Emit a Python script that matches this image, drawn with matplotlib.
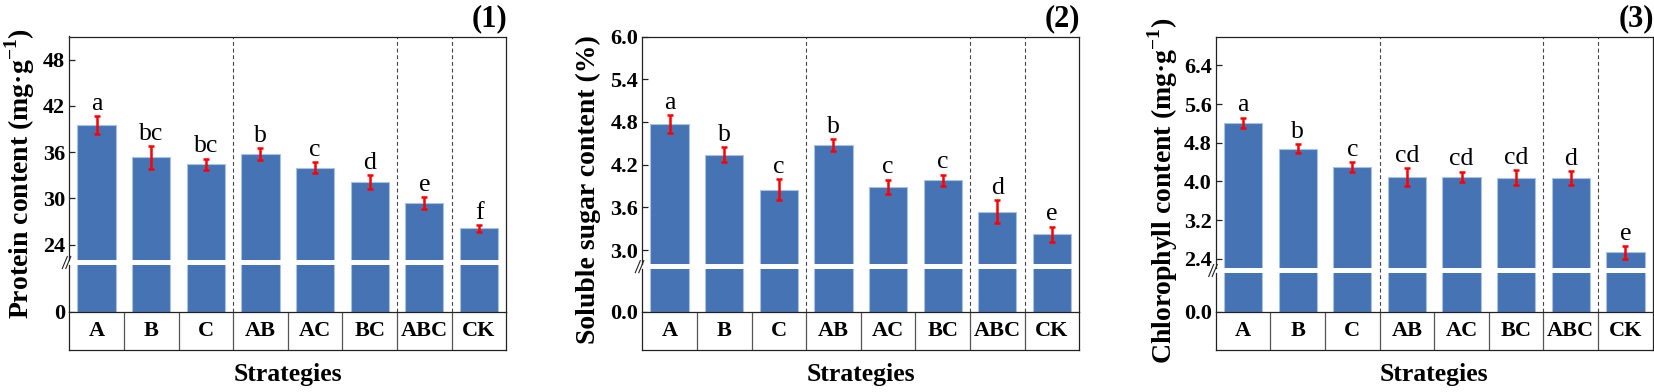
#!/usr/bin/env python3

'''
Protein, soluble sugar and chlorophyll content by strategy (broken y axes)
'''

import matplotlib as mpl
mpl.use('Agg')
import matplotlib.pyplot as plt
from matplotlib.lines import Line2D
import numpy as np

plt.rcParams['font.family'] = ['Liberation Serif', 'DejaVu Serif']
plt.rcParams['font.weight'] = 'bold'
plt.rcParams['mathtext.fontset'] = 'custom'
plt.rcParams['mathtext.rm'] = 'Liberation Serif:bold'
plt.rcParams['mathtext.bf'] = 'Liberation Serif:bold'

strategies = ['A', 'B', 'C', 'AB', 'AC', 'BC', 'ABC', 'CK']

protein = [39.5, 35.3, 34.4, 35.75, 34.0, 32.1, 29.4, 26.1]
protein_err = [1.2, 1.5, 0.75, 0.8, 0.7, 0.9, 0.8, 0.45]
protein_sig = ['a', 'bc', 'bc', 'b', 'c', 'd', 'e', 'f']

sugar = [4.77, 4.34, 3.85, 4.47, 3.89, 3.98, 3.54, 3.22]
sugar_err = [0.13, 0.105, 0.145, 0.085, 0.10, 0.08, 0.16, 0.11]
sugar_sig = ['a', 'b', 'c', 'b', 'c', 'c', 'd', 'e']

chl = [5.21, 4.68, 4.30, 4.09, 4.09, 4.08, 4.06, 2.53]
chl_err = [0.11, 0.09, 0.10, 0.18, 0.11, 0.15, 0.145, 0.13]
chl_sig = ['a', 'b', 'c', 'cd', 'cd', 'cd', 'd', 'e']

W, H = 1654, 392
BAR = '#4673B3'
EDGE = '#a9c1e3'
LINE = '#222222'


def box(x0, y_top, w, y_bot):
    # pixel box (from top-left) -> figure fraction
    return [x0 / W, 1 - y_bot / H, w / W, (y_bot - y_top) / H]


def panel(fig, cfg):
    L = cfg['left']
    w = 437
    top, zero, tbot = 36.5, 311.7, 350.3
    g0, g1 = cfg['gap']
    x = np.arange(len(strategies))
    vals = cfg['vals']
    errs = cfg['errs']

    up = fig.add_axes(box(L, top, w, g0))
    dn = fig.add_axes(box(L, g1, w, zero))
    fr = fig.add_axes(box(L, top, w, zero))
    tb = fig.add_axes(box(L, zero, w, tbot))

    for ax in (up, dn):
        ax.bar(x, vals, width=0.7, color=BAR, edgecolor=EDGE, linewidth=0.8)
        ax.set_xlim(-0.5, 7.5)
        ax.set_xticks([])
        for s in ('top', 'right', 'bottom'):
            ax.spines[s].set_visible(False)
        ax.spines['left'].set_color(LINE)
        ax.spines['left'].set_linewidth(0.9)
        ax.tick_params(axis='y', direction='in', length=4, width=0.9,
                       labelsize=16, pad=3, color=LINE)
        ax.patch.set_alpha(0)

    up.set_ylim(*cfg['ylim'])
    up.set_yticks(cfg['ticks'])
    up.set_yticklabels([cfg['fmt'] % t for t in cfg['ticks']])
    dn.set_ylim(0, cfg['ylim'][0])
    dn.set_yticks([0])
    dn.set_yticklabels([cfg['fmt'] % 0])

    up.errorbar(x, vals, yerr=errs, fmt='none', ecolor='#ff0000',
                elinewidth=1.8, capsize=2.5, capthick=1.8, zorder=4)
    for xi, v, e, s in zip(x, vals, errs, cfg['sig']):
        up.annotate(s, (xi, v + e), xytext=(0, 4.5), textcoords='offset points',
                    ha='center', va='baseline', fontsize=18.5,
                    fontweight='normal')

    # frame + dashed group separators
    fr.set_xlim(-0.5, 7.5)
    fr.set_ylim(0, 1)
    fr.set_xticks([])
    fr.set_yticks([])
    fr.patch.set_alpha(0)
    fr.spines['left'].set_visible(False)
    fr.spines['bottom'].set_visible(False)
    for s in ('top', 'right'):
        fr.spines[s].set_color(LINE)
        fr.spines[s].set_linewidth(0.9)
    for sep in [2.5, 5.5, 6.5]:
        fr.axvline(sep, color='#444444', lw=0.8, ls=(0, (3.5, 2.5)))

    # category table under the axis
    tb.set_xlim(-0.5, 7.5)
    tb.set_ylim(0, 1)
    tb.set_xticks([])
    tb.set_yticks([])
    for s in tb.spines.values():
        s.set_color(LINE)
        s.set_linewidth(0.9)
    for b in np.arange(0.5, 7, 1):
        tb.axvline(b, color='#555555', lw=0.9)
    for xi, s in zip(x, strategies):
        tb.text(xi, 0.5, s, ha='center', va='center', fontsize=16)

    # axis break marks
    gc = (g0 + g1) / 2
    for dx in (-4.5, -1.0):
        fig.add_artist(Line2D([(L + dx - 2.5) / W, (L + dx + 2.5) / W],
                              [1 - (gc + 6) / H, 1 - (gc - 6) / H],
                              color=LINE, lw=0.8))

    fig.text((L + w / 2) / W, 1 - 375 / H, 'Strategies', ha='center',
             va='center', fontsize=18.5)
    fig.text(cfg['ylab_xy'][0] / W, 1 - cfg['ylab_xy'][1] / H, cfg['ylabel'],
             rotation=90, ha='center', va='center', fontsize=20)
    fig.text((L + w + 1) / W, 1 - (top - 3) / H, cfg['tag'], ha='right',
             va='bottom', fontsize=22)


fig = plt.figure(figsize=(W / 100, H / 100), dpi=100)

panel(fig, {
    'left': 69.3, 'gap': (260.0, 265.0),
    'vals': protein, 'errs': protein_err, 'sig': protein_sig,
    'ylim': (22, 51), 'ticks': [24, 30, 36, 42, 48], 'fmt': '%d',
    'ylabel': r'Protein content (mg·g$^{-1}$)', 'ylab_xy': (20, 174),
    'tag': '(1)',
})
panel(fig, {
    'left': 642.3, 'gap': (264.3, 269.0),
    'vals': sugar, 'errs': sugar_err, 'sig': sugar_sig,
    'ylim': (2.8, 6.0), 'ticks': [3.0, 3.6, 4.2, 4.8, 5.4, 6.0], 'fmt': '%.1f',
    'ylabel': 'Soluble sugar content (%)', 'ylab_xy': (588, 190),
    'tag': '(2)',
})
panel(fig, {
    'left': 1215.7, 'gap': (268.3, 272.7),
    'vals': chl, 'errs': chl_err, 'sig': chl_sig,
    'ylim': (2.2, 7.0), 'ticks': [2.4, 3.2, 4.0, 4.8, 5.6, 6.4], 'fmt': '%.1f',
    'ylabel': r'Chlorophyll content (mg·g$^{-1}$)', 'ylab_xy': (1163, 191),
    'tag': '(3)',
})

fig.savefig('out.png', dpi=100)
